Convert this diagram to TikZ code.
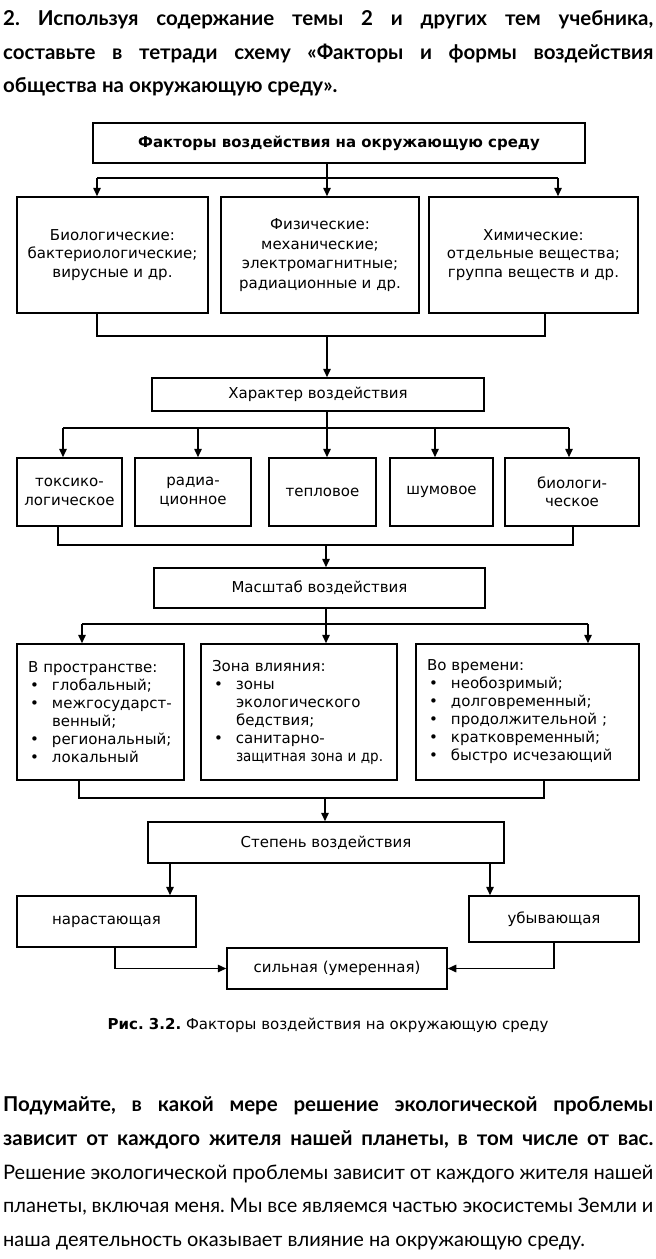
\documentclass[tikz,border=0pt]{standalone}
\usepackage{fontspec}
\setmainfont{DejaVu Sans}
\newfontfamily\headfont{Lato}
\newfontfamily\dgfont{DejaVu Sans}
\usetikzlibrary{arrows.meta}
\frenchspacing
\newcommand{\bulitem}[1]{\makebox[24pt][l]{\hspace{2pt}\textbullet}#1}
\newcommand{\contline}[1]{\hspace*{24pt}#1}
\tikzset{
  box/.style ={draw, line width=1.5pt, inner sep=0pt, align=center, font=\dgfont\fontsize{15}{18.5}\selectfont},
  lbox/.style={box, align=left, font=\dgfont\fontsize{15}{18}\selectfont},
  link/.style={line width=1.5pt},
  arr/.style ={link, -{Triangle[length=8.5pt, width=7.5pt]}},
  head/.style={inner sep=0pt, anchor=base west, font=\headfont\bfseries\fontsize{20.5}{24}\selectfont},
  body/.style={inner sep=0pt, anchor=base west, font=\headfont\fontsize{20}{24}\selectfont},
  capt/.style={inner sep=0pt, font=\dgfont\fontsize{15}{18}\selectfont},
}
\begin{document}
\begin{tikzpicture}[x=1pt, y=-1pt]
  \useasboundingbox (0,0) rectangle (656,1259);
  \node[head] (h1) at (3,25) {\makebox[650pt][s]{2. Используя содержание темы 2 и других тем учебника,}};
  \node[head] (h2) at (3,59) {\makebox[650pt][s]{составьте в тетради схему «Факторы и формы воздействия}};
  \node[head] (h3) at (3,92) {общества на окружающую среду».};

  \node[box, minimum width=492pt, minimum height=40pt, font=\dgfont\bfseries\fontsize{15}{18}\selectfont] (fac) at (339,143) {Факторы воздействия на окружающую среду};
  \node[box, minimum width=191pt, minimum height=116pt] (bio) at (112.5,255) {Биологические:\\бактериологические;\\вирусные и др.};
  \node[box, minimum width=198pt, minimum height=116pt, font=\dgfont\fontsize{15}{19.5}\selectfont] (phys) at (320,255) {Физические:\\механические;\\электромагнитные;\\радиационные и др.};
  \node[box, minimum width=209pt, minimum height=116pt] (chem) at (533.5,255) {Химические:\\отдельные вещества;\\группа веществ и др.};

  \node[box, minimum width=332pt, minimum height=33pt] (har) at (318,394.5) {Характер воздействия};
  \node[box, minimum width=105pt, minimum height=68pt] (tox) at (69.5,492) {токсико-\\логическое};
  \node[box, minimum width=116pt, minimum height=68pt] (rad) at (193,492) {радиа-\\ционное};
  \node[box, minimum width=107pt, minimum height=68pt] (heat) at (322.5,492) {тепловое};
  \node[box, minimum width=103pt, minimum height=68pt] (noise) at (441.5,492) {шумовое};
  \node[box, minimum width=134pt, minimum height=68pt] (biol) at (572,492) {биологи-\\ческое};

  \node[box, minimum width=331pt, minimum height=40pt] (mas) at (319.5,588) {Масштаб воздействия};
  \node[lbox, minimum width=167pt, minimum height=136pt, text width=145pt] (space) at (100.5,712)
    {В пространстве:\\\bulitem{глобальный;}\\\bulitem{межгосударст-}\\\contline{венный;}\\\bulitem{региональный;}\\\bulitem{локальный}};
  \node[lbox, minimum width=196pt, minimum height=136pt, text width=174pt] (zone) at (299,712)
    {Зона влияния:\\\bulitem{зоны}\\\contline{экологического}\\\contline{бедствия;}\\\bulitem{санитарно-}\\\contline{\makebox[0pt][l]{\scalebox{0.9}[1]{защитная зона и др.}}}};
  \node[lbox, minimum width=223pt, minimum height=136pt, text width=201pt] (time) at (527.5,712)
    {Во времени:\\\bulitem{необозримый;}\\\bulitem{долговременный;}\\\bulitem{продолжительной ;}\\\bulitem{кратковременный;}\\\bulitem{быстро исчезающий}};

  \node[box, minimum width=356pt, minimum height=41pt] (deg) at (326,842.5) {Степень воздействия};
  \node[box, minimum width=179pt, minimum height=51pt] (grow) at (106.5,921.5) {нарастающая};
  \node[box, minimum width=170pt, minimum height=46pt] (fall) at (554,919) {убывающая};
  \node[box, minimum width=220pt, minimum height=41pt] (mod) at (337,968.5) {сильная (умеренная)};

  \coordinate (j1) at (327,178);
  \coordinate (b1) at (97,178);
  \coordinate (b3) at (558,178);
  \draw[link] (b1) -- (b3);
  \draw[arr] (j1 |- fac.south) -- (j1 |- phys.north);
  \draw[arr] (b1) -- (b1 |- bio.north);
  \draw[arr] (b3) -- (b3 |- chem.north);

  \coordinate (c1) at (97,336);
  \coordinate (c3) at (545,336);
  \coordinate (j2) at (327,336);
  \draw[link] (c1 |- bio.south) -- (c1) -- (c3) -- (c3 |- chem.south);
  \draw[arr] (j2) -- (j2 |- har.north);

  \coordinate (r1) at (63,428);
  \coordinate (r2) at (198,428);
  \coordinate (r3) at (327,428);
  \coordinate (r4) at (435,428);
  \coordinate (r5) at (569,428);
  \draw[link] (r1) -- (r5);
  \draw[arr] (r3 |- har.south) -- (r3 |- heat.north);
  \draw[arr] (r1) -- (r1 |- tox.north);
  \draw[arr] (r2) -- (r2 |- rad.north);
  \draw[arr] (r4) -- (r4 |- noise.north);
  \draw[arr] (r5) -- (r5 |- biol.north);

  \coordinate (s1) at (58,545);
  \coordinate (s2) at (573,545);
  \coordinate (s0) at (326,545);
  \draw[link] (s1 |- tox.south) -- (s1) -- (s2) -- (s2 |- biol.south);
  \draw[arr] (s0) -- (s0 |- mas.north);

  \coordinate (t1) at (82,624);
  \coordinate (t0) at (326,624);
  \coordinate (t2) at (588,624);
  \draw[link] (t1) -- (t2);
  \draw[arr] (t0 |- mas.south) -- (t0 |- zone.north);
  \draw[arr] (t1) -- (t1 |- space.north);
  \draw[arr] (t2) -- (t2 |- time.north);

  \coordinate (u1) at (79,798);
  \coordinate (u2) at (544,798);
  \coordinate (u0) at (325,798);
  \draw[link] (u1 |- space.south) -- (u1) -- (u2) -- (u2 |- time.south);
  \draw[arr] (u0) -- (u0 |- deg.north);

  \coordinate (d1) at (170,880);
  \coordinate (d2) at (490,880);
  \draw[arr] (d1 |- deg.south) -- (d1 |- grow.north);
  \draw[arr] (d2 |- deg.south) -- (d2 |- fall.north);
  \coordinate (g1) at (115,968.5);
  \coordinate (f1) at (554,968.5);
  \draw[arr] (g1 |- grow.south) -- (g1) -- (mod.west);
  \draw[arr] (f1 |- fall.south) -- (f1) -- (mod.east);

  \node[capt] (cap) at (328,1025) {\textbf{Рис. 3.2.} Факторы воздействия на окружающую среду};

  \node[head] (q1) at (3,1111) {\makebox[650pt][s]{Подумайте, в какой мере решение экологической проблемы}};
  \node[head] (q2) at (3,1145) {\makebox[650pt][s]{зависит от каждого жителя нашей планеты, в том числе от вас.}};
  \node[body] (a1) at (3,1179) {\makebox[650pt][s]{Решение экологической проблемы зависит от каждого жителя нашей}};
  \node[body] (a2) at (3,1212) {\makebox[650pt][s]{планеты, включая меня. Мы все являемся частью экосистемы Земли и}};
  \node[body] (a3) at (3,1246) {наша деятельность оказывает влияние на окружающую среду.};
\end{tikzpicture}
\end{document}
